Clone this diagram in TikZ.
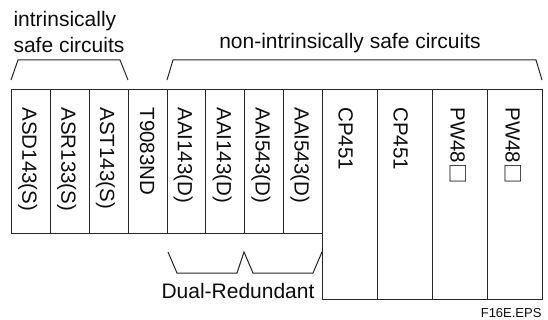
\documentclass[tikz,border=0pt]{standalone}
\usepackage{fontspec}
\setmainfont{Liberation Sans}
\newfontfamily\cjkfont{Noto Sans CJK JP}
\begin{document}
\begin{tikzpicture}[x=1pt,y=-1pt,
  line width=1pt,
  mod/.style={draw=black!85,line width=1pt,inner sep=0pt,anchor=north west,minimum height=144pt},
  big/.style={draw=black!85,line width=1pt,inner sep=0pt,anchor=north west,minimum height=210pt,minimum width=55pt},
  vlab/.style={rotate=-90,anchor=base west,inner sep=0pt,font=\fontsize{20.5}{22}\selectfont,text=black!95},
  lab/.style={inner sep=0pt,font=\fontsize{21}{22}\selectfont,text=black!95},
  brk/.style={draw=black!85,line width=1pt,line join=miter}]
\useasboundingbox (0,0) rectangle (548,320);
% small modules
\foreach \i/\n in {0/m1,1/m2,2/m3,3/m4,4/m5,5/m6,6/m7,7/m8}{
  \node[mod,minimum width=38.875pt] (\n) at ({11+38.875*\i},89) {};
}
% big modules
\foreach \i/\n in {0/b1,1/b2,2/b3,3/b4}{
  \node[big] (\n) at ({322+55*\i},89) {};
}
% labels
\node[vlab] (t1) at ([xshift=-8.5pt,yshift=-18pt]m1.north) {ASD143(S)};
\node[vlab] (t2) at ([xshift=-8.5pt,yshift=-18pt]m2.north) {ASR133(S)};
\node[vlab] (t3) at ([xshift=-8.5pt,yshift=-18pt]m3.north) {AST143(S)};
\node[vlab] (t4) at ([xshift=-7.5pt,yshift=-18pt]m4.north) {T9083ND};
\node[vlab] (t5) at ([xshift=-8.5pt,yshift=-18pt]m5.north) {AAI143(D)};
\node[vlab] (t6) at ([xshift=-8.5pt,yshift=-18pt]m6.north) {AAI143(D)};
\node[vlab] (t7) at ([xshift=-8.5pt,yshift=-18pt]m7.north) {AAI543(D)};
\node[vlab] (t8) at ([xshift=-8.5pt,yshift=-18pt]m8.north) {AAI543(D)};
\node[vlab] (t9) at ([xshift=-11.5pt,yshift=-18pt]b1.north) {CP451};
\node[vlab] (t10) at ([xshift=-11.5pt,yshift=-18pt]b2.north) {CP451};
\node[vlab] (t11) at ([xshift=-9.5pt,yshift=-18pt]b3.north) {PW48{\cjkfont □}};
\node[vlab] (t12) at ([xshift=-9.5pt,yshift=-18pt]b4.north) {PW48{\cjkfont □}};
% top labels
\node[lab,anchor=base west] (is1) at (13,27) {intrinsically};
\node[lab,anchor=base west] (is2) at (13,53) {safe circuits};
\node[lab,anchor=base] (nis) at (350,49) {non-intrinsically safe circuits};
% brackets
\draw[brk] (11,80) -- (18,60) -- (120,60) -- (128,80);
\draw[brk] (167,80) -- (173,60) -- (536,60) -- (542,80);
\draw[brk] (168,252) -- (177,273) -- (237,273) -- (244,252) -- (253,273) -- (313,273) -- (322,252);
\node[lab,anchor=base west] (dr) at (161,298) {Dual-Redundant};
\node[inner sep=0pt,anchor=base east,font=\fontsize{13}{14}\selectfont,text=black!95] (fig) at (542,317) {F16E.EPS};
\end{tikzpicture}
\end{document}
